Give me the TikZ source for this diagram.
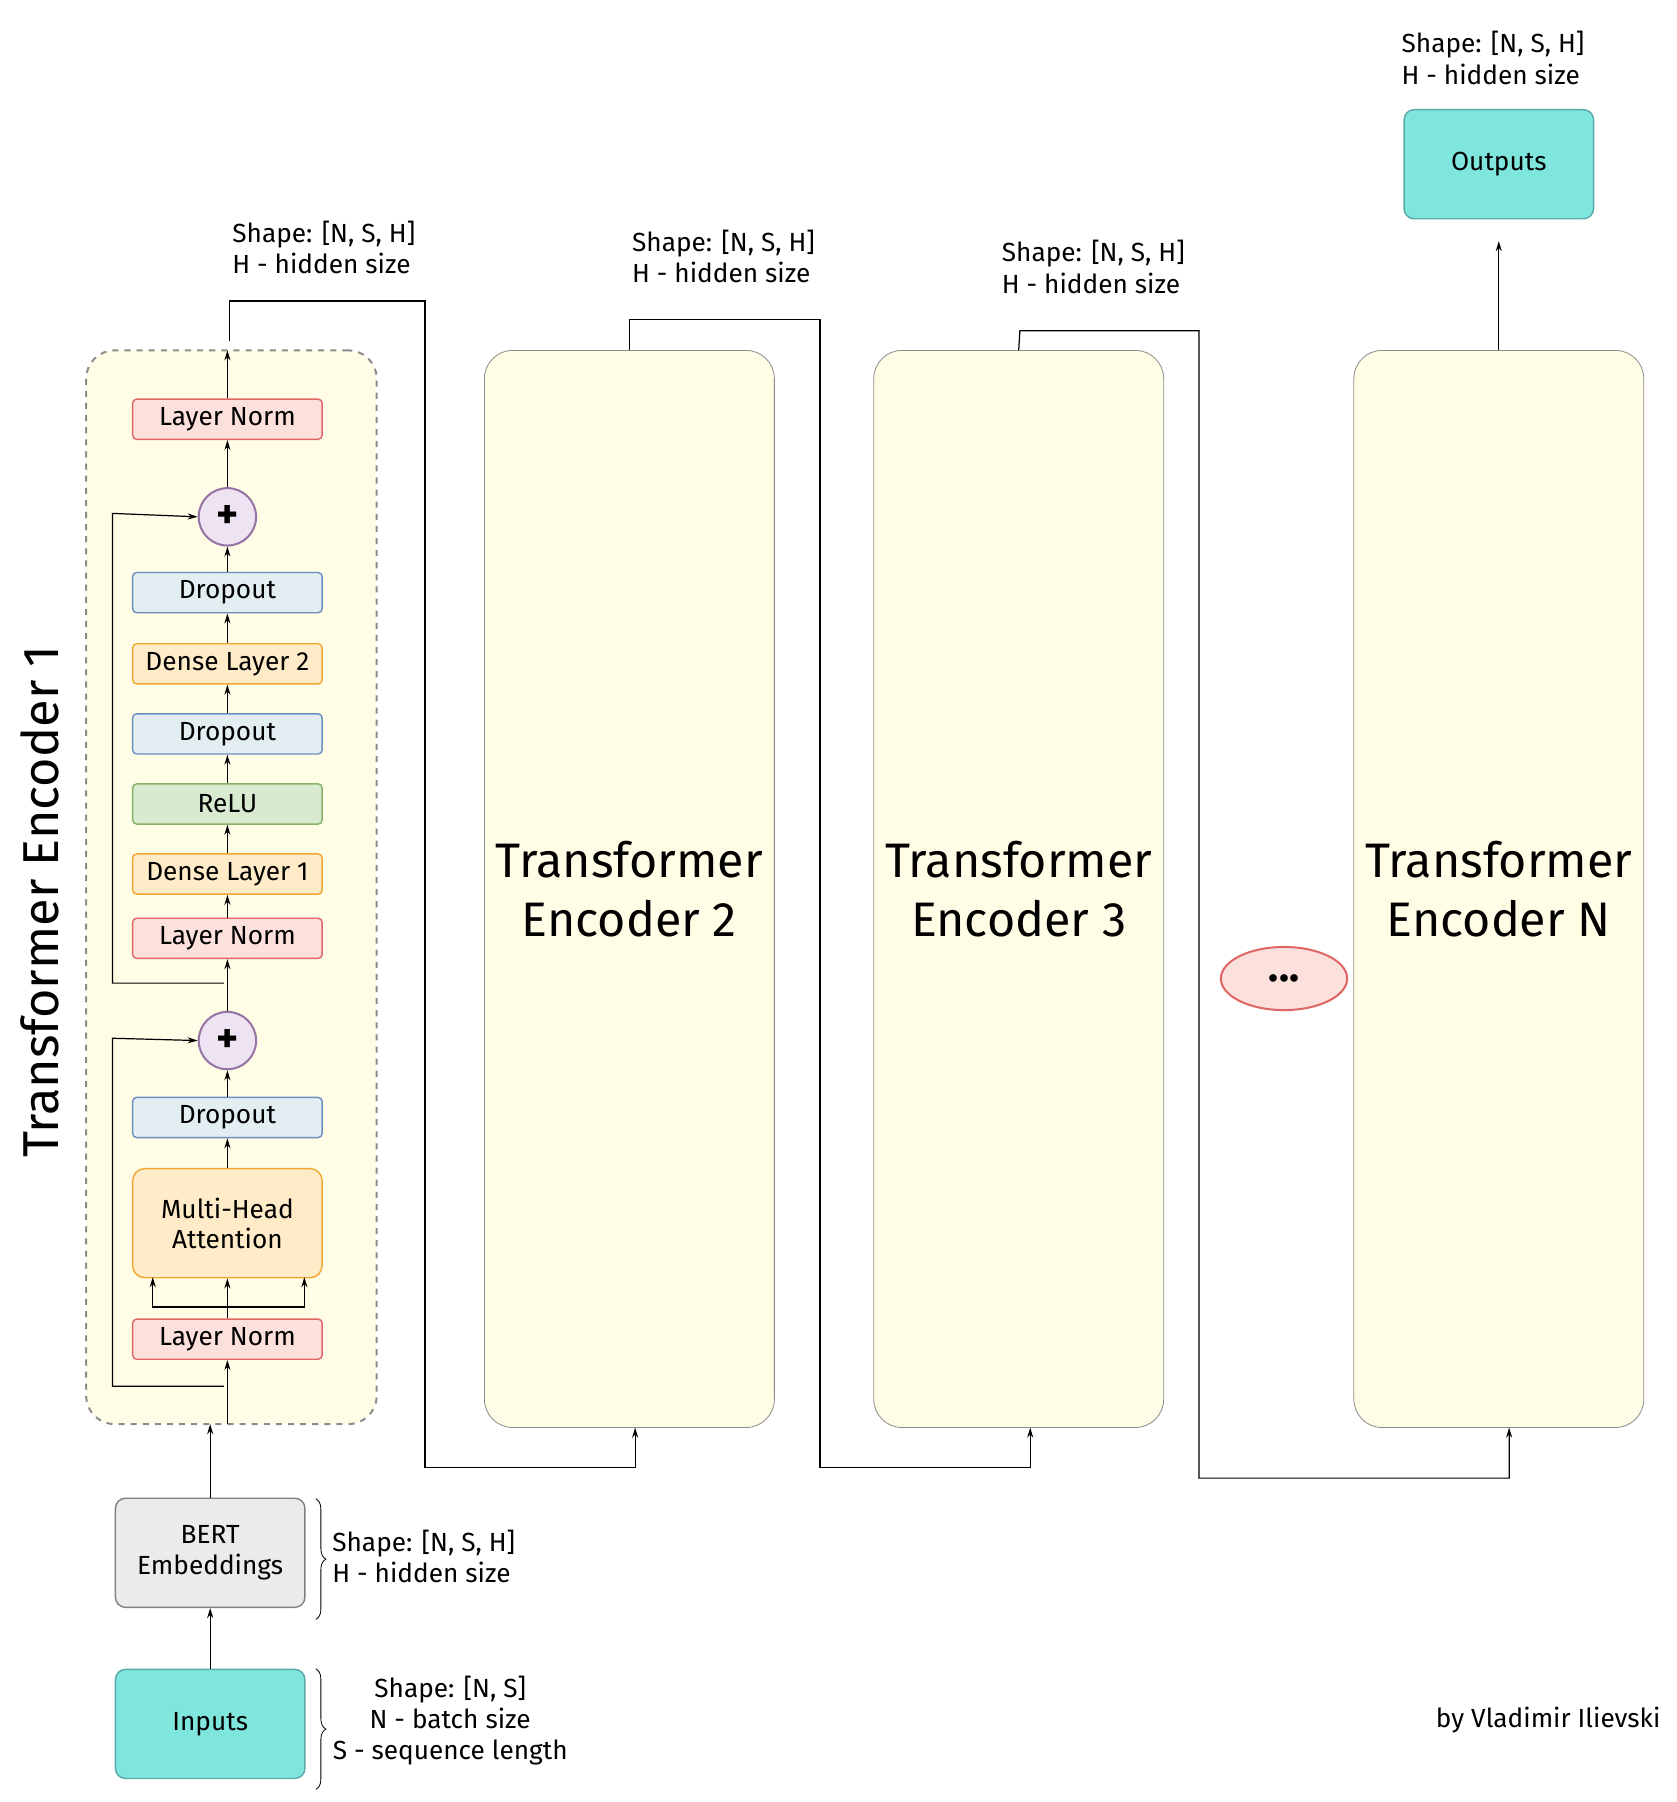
\documentclass[tikz,border=0pt]{standalone}
\usepackage{fontspec}
\setmainfont{Fira Sans}
\usetikzlibrary{positioning, arrows.meta, shapes.geometric, decorations.pathreplacing}
\definecolor{encfill}{HTML}{FFFDE6}
\definecolor{lnfill}{HTML}{FBE0DC}
\definecolor{lndraw}{HTML}{E06666}
\definecolor{dofill}{HTML}{E3EEF3}
\definecolor{dodraw}{HTML}{6C8EBF}
\definecolor{dnfill}{HTML}{FFEBC8}
\definecolor{dndraw}{HTML}{F0A830}
\definecolor{rlfill}{HTML}{D8EBD0}
\definecolor{rldraw}{HTML}{82B366}
\definecolor{plfill}{HTML}{EDE3F2}
\definecolor{pldraw}{HTML}{9673A6}
\definecolor{cyfill}{HTML}{7FE6DE}
\definecolor{cydraw}{HTML}{5AA8A8}
\definecolor{gyfill}{HTML}{EBEBEB}
\tikzset{
    layer/.style = {draw, line width=0.7pt, rounded corners=2pt, minimum width=3.3cm, minimum height=0.7cm,
        font=\fontsize{13}{15}\selectfont},
    lnorm/.style = {layer, fill=lnfill, draw=lndraw},
    drop/.style = {layer, fill=dofill, draw=dodraw},
    dense/.style = {layer, fill=dnfill, draw=dndraw},
    relu/.style = {layer, fill=rlfill, draw=rldraw},
    plus/.style = {circle, draw=pldraw, fill=plfill, line width=1pt, minimum size=1cm, inner sep=0pt,
        font=\bfseries\huge},
    bigbox/.style = {draw=black!45, fill=encfill, rounded corners=14pt, minimum width=5.05cm, minimum height=18.76cm,
        align=center, font=\fontsize{24}{29}\selectfont},
    iobox/.style = {draw, line width=0.7pt, rounded corners=5pt, minimum width=3.3cm, minimum height=1.9cm,
        align=center, font=\fontsize{13}{15.5}\selectfont},
    shape lbl/.style = {align=left, anchor=north west, inner sep=0pt, font=\fontsize{13}{15.5}\selectfont},
    link/.style = {line width=0.6pt, -{Stealth[length=5pt, width=3pt]}},
}
\begin{document}
\begin{tikzpicture}[x=0.02cm, y=-0.02cm]
    \useasboundingbox (0,0) rectangle (1460,1569);

    % encoder 1
    \node[draw=black!45, dashed, line width=1pt, fill=encfill, rounded corners=14pt,
        minimum width=5.06cm, minimum height=18.7cm] (enc1) at (201.5,772.5) {};
    \node[rotate=90, font=\fontsize{25}{29}\selectfont] (title1) at (35,785) {Transformer Encoder 1};

    \node[lnorm] (ln3) at (198,365) {Layer Norm};
    \node[plus] (add2) at (198,450) {+};
    \node[drop] (do3) at (198,516) {Dropout};
    \node[dense] (d2) at (198,578) {Dense Layer 2};
    \node[drop] (do2) at (198,639) {Dropout};
    \node[relu] (relu) at (198,700) {ReLU};
    \node[dense] (d1) at (198,761) {Dense Layer 1};
    \node[lnorm] (ln2) at (198,817) {Layer Norm};
    \node[plus] (add1) at (198,906) {+};
    \node[drop] (do1) at (198,973) {Dropout};
    \node[layer, fill=dnfill, draw=dndraw, minimum height=1.9cm, align=center,
        rounded corners=6pt] (mha) at (198,1065) {Multi-Head\\Attention};
    \node[lnorm] (ln1) at (198,1166) {Layer Norm};

    % other encoders
    \node[bigbox] (enc2) at (548,774) {Transformer\\Encoder 2};
    \node[bigbox] (enc3) at (887,774) {Transformer\\Encoder 3};
    \node[bigbox] (encN) at (1305,774) {Transformer\\Encoder N};
    \node[ellipse, draw=lndraw, fill=lnfill, line width=1pt, minimum width=2.2cm, minimum height=1.1cm,
        font=\bfseries\huge] (dots) at (1118,852) {...};

    % inputs and outputs
    \node[iobox, fill=cyfill, draw=cydraw] (out) at (1305,143) {Outputs};
    \node[iobox, fill=gyfill, draw=black!50] (bert) at (183,1352) {BERT\\Embeddings};
    \node[iobox, fill=cyfill, draw=cydraw] (in) at (183,1501) {Inputs};

    \coordinate (e1in) at (198,1240);
    \coordinate (e1out) at (200,297);

    % labels
    \node[shape lbl] (s1) at (202,192) {Shape: [N, S, H]\\H - hidden size};
    \node[shape lbl] (s2) at (550,200) {Shape: [N, S, H]\\H - hidden size};
    \node[shape lbl] (s3) at (872,209) {Shape: [N, S, H]\\H - hidden size};
    \node[shape lbl] (s4) at (1220,27) {Shape: [N, S, H]\\H - hidden size};
    \node[shape lbl] (sb) at (289,1332) {Shape: [N, S, H]\\H - hidden size};
    \node[align=center, font=\fontsize{13}{15.5}\selectfont] (si) at (392,1498)
        {Shape: [N, S]\\N - batch size\\S - sequence length};
    \node[font=\fontsize{13}{15}\selectfont] (sig) at (1348,1498) {by Vladimir Ilievski};
    \draw[decorate, decoration={brace, amplitude=5pt}] (275,1305) -- (275,1410);
    \draw[decorate, decoration={brace, amplitude=5pt}] (275,1453) -- (275,1558);

    % flow in encoder 1
    \draw[link] (in) -- (bert);
    \draw[link] (bert.north) -- (183,1240);
    \draw[link] (e1in) -- (ln1);
    \draw[link] (195,1207) -- (98,1207) -- (98,904) -- (add1.west);
    \draw[link] (ln1) -- (mha);
    \draw[link] (198,1138) -- (133,1138) -- (133,1112);
    \draw[link] (198,1138) -- (265,1138) -- (265,1112);
    \draw[link] (mha) -- (do1);
    \draw[link] (do1) -- (add1);
    \draw[link] (add1) -- (ln2);
    \draw[link] (195,856) -- (98,856) -- (98,447) -- (add2.west);
    \draw[link] (ln2) -- (d1);
    \draw[link] (d1) -- (relu);
    \draw[link] (relu) -- (do2);
    \draw[link] (do2) -- (d2);
    \draw[link] (d2) -- (do3);
    \draw[link] (do3) -- (add2);
    \draw[link] (add2) -- (ln3);
    \draw[link] (ln3) -- (198,305);

    % between encoders
    \draw[link] (e1out) -- (200,262) -- (370,262) -- (370,1278) -- (553,1278) -- (553,1243);
    \draw[link] (enc2.north) -- (548,278) -- (714,278) -- (714,1278) -- (897,1278) -- (897,1243);
    \draw[link] (enc3.north) -- (888,288) -- (1044,288) -- (1044,1287) -- (1314,1287) -- (1314,1243);
    \draw[link] (encN.north) -- (1305,210);
\end{tikzpicture}
\end{document}
